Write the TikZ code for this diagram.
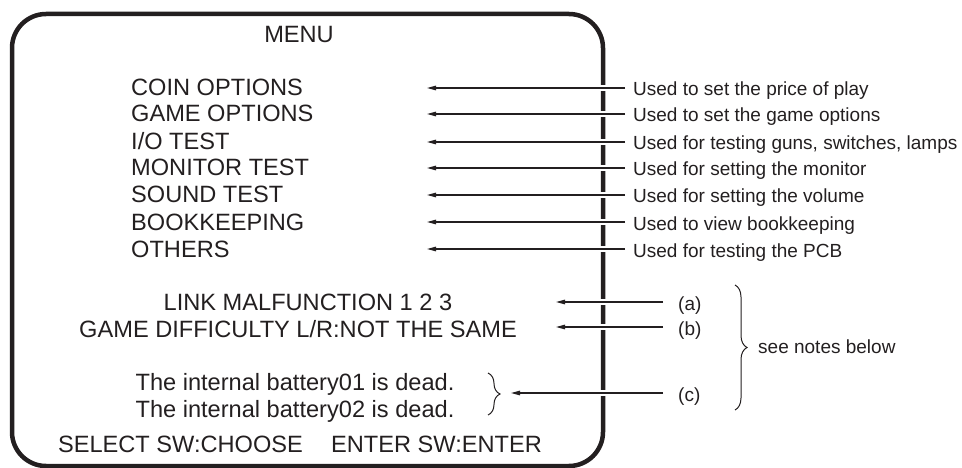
\documentclass[tikz,border=0pt]{standalone}
\usepackage{fontspec}
\setmainfont{Liberation Sans}
\usetikzlibrary{arrows.meta,decorations.pathreplacing}
\definecolor{ink}{HTML}{231F20}
\tikzset{
	screen/.style={draw=ink, line width=4.5pt, rounded corners=34pt},
	menuitem/.style={anchor=base west, inner sep=0pt, text=ink, font=\fontsize{23.6}{27}\selectfont},
	menurow/.style={anchor=base, inner sep=0pt, text=ink, font=\fontsize{23.6}{27}\selectfont},
	desc/.style={anchor=west, inner xsep=8pt, inner ysep=0pt, text height=16pt, text depth=0pt, text=ink, font=\fontsize{19}{22}\selectfont},
	note/.style={desc, inner xsep=15pt},
	pointer/.style={draw=ink, line width=1.1pt, -{Triangle[length=9pt,width=4.5pt]}, preaction={draw=white, line width=6pt, -}},
	bracket/.style={draw=ink, line width=1pt, decorate, decoration={brace, amplitude=#1}},
}
\begin{document}
\begin{tikzpicture}[x=1pt,y=-1pt]
	\useasboundingbox (0,0) rectangle (962,468);
	\draw[screen] (12,14) rectangle (603,466);
	
	\node[menurow] (menu) at (299,43) {MENU};
	
	\node[menuitem] (coin) at (131,96) {COIN OPTIONS};
	\node[menuitem] (game) at (131,122) {GAME OPTIONS};
	\node[menuitem] (io) at (131,150) {I/O TEST};
	\node[menuitem] (monitor) at (131,176) {MONITOR TEST};
	\node[menuitem] (sound) at (131,203) {SOUND TEST};
	\node[menuitem] (books) at (131,230) {BOOKKEEPING};
	\node[menuitem] (others) at (131,257) {OTHERS};
	
	\node[menurow] (link) at (308,310) {LINK MALFUNCTION 1 2 3};
	\node[menurow] (diff) at (298,337) {GAME DIFFICULTY L/R:NOT THE SAME};
	\node[menurow] (bat1) at (295,390) {The internal battery01 is dead.};
	\node[menurow] (bat2) at (295,417) {The internal battery02 is dead.};
	\node[menurow] (select) at (300,452) {SELECT SW:CHOOSE\hspace{1.2em}ENTER SW:ENTER};
	
	% what each entry is for
	\node[desc] (coin-d) at (625,88) {Used to set the price of play};
	\node[desc] (game-d) at (625,114) {Used to set the game options};
	\node[desc] (io-d) at (625,142) {Used for testing guns, switches, lamps};
	\node[desc] (monitor-d) at (625,168) {Used for setting the monitor};
	\node[desc] (sound-d) at (625,195) {Used for setting the volume};
	\node[desc] (books-d) at (625,222) {Used to view bookkeeping};
	\node[desc] (others-d) at (625,249) {Used for testing the PCB};
	
	\coordinate (tip) at (427,0);
	\draw[pointer] (coin-d.west) -- (coin-d.west -| tip);
	\draw[pointer] (game-d.west) -- (game-d.west -| tip);
	\draw[pointer] (io-d.west) -- (io-d.west -| tip);
	\draw[pointer] (monitor-d.west) -- (monitor-d.west -| tip);
	\draw[pointer] (sound-d.west) -- (sound-d.west -| tip);
	\draw[pointer] (books-d.west) -- (books-d.west -| tip);
	\draw[pointer] (others-d.west) -- (others-d.west -| tip);
	
	% error messages
	\node[note] (na) at (663,302) {(a)};
	\node[note] (nb) at (663,327) {(b)};
	\node[note] (nc) at (663,393) {(c)};
	\coordinate (tipab) at (556,0);
	\coordinate (tipc) at (511,0);
	\draw[pointer] (na.west) -- (na.west -| tipab);
	\draw[pointer] (nb.west) -- (nb.west -| tipab);
	\draw[pointer] (nc.west) -- (nc.west -| tipc);
	
	\draw[bracket=12pt] (488,373) -- (488,415);
	\draw[bracket=12pt] (735,285) -- (735,410);
	\node[desc, inner xsep=0pt] (notes) at (758,345) {see notes below};
\end{tikzpicture}
\end{document}
